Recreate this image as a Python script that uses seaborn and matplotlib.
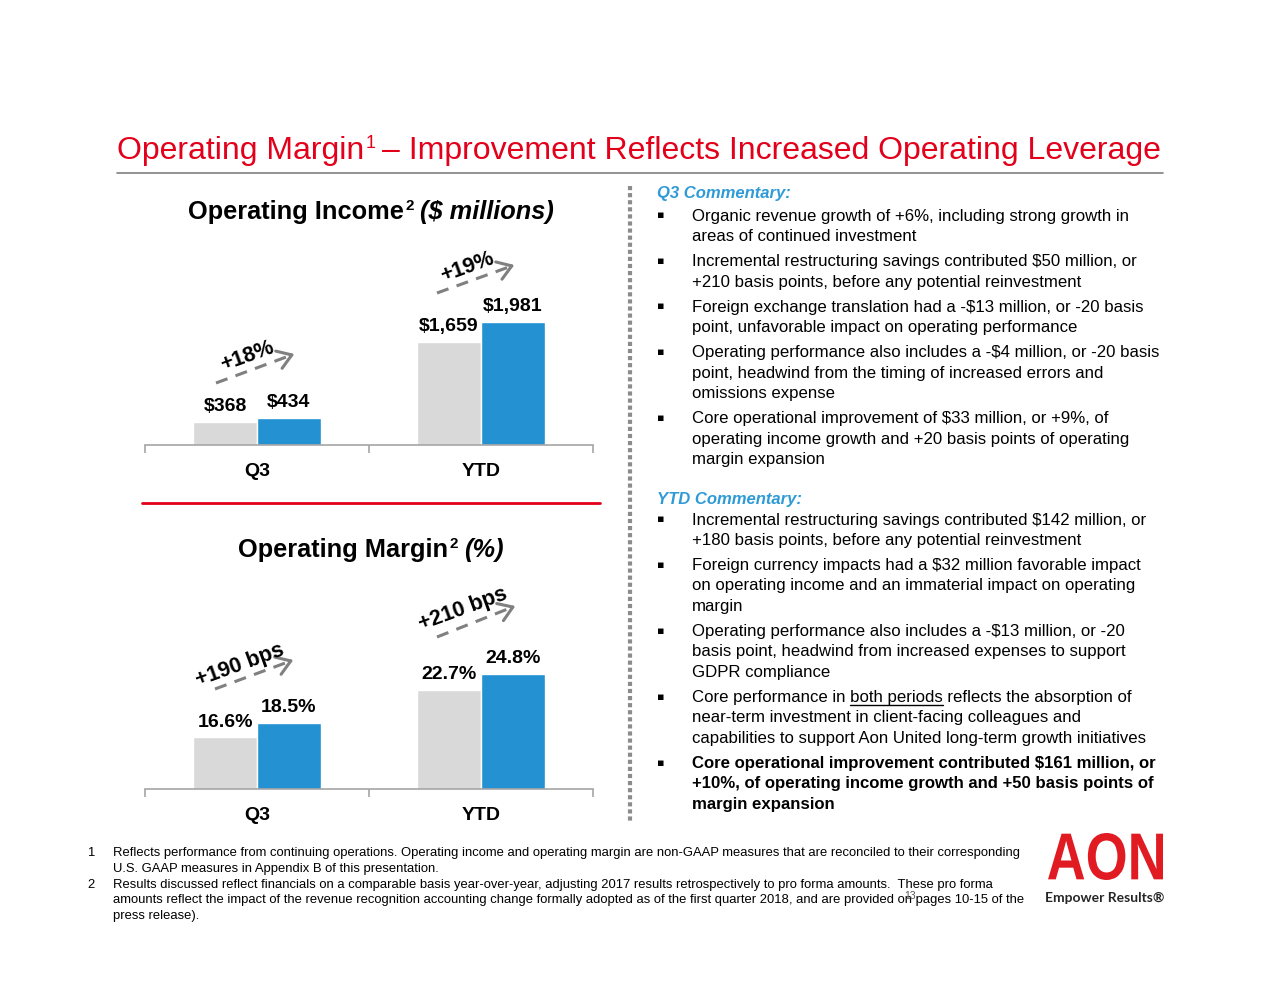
import pandas as pd
import matplotlib.pyplot as plt
import seaborn as sns
from matplotlib.lines import Line2D
from matplotlib.patches import FancyArrowPatch, PathPatch
from matplotlib.textpath import TextPath
from matplotlib.font_manager import FontProperties
from matplotlib.transforms import Affine2D

# Datos
periods = ["Q3", "YTD"]
years = ["2017", "2018"]
income_2017 = [368, 1659]
income_2018 = [434, 1981]
margin_2017 = [16.6, 22.7]
margin_2018 = [18.5, 24.8]
income_growth = ["+18%", "+19%"]
margin_growth = ["+190 bps", "+210 bps"]

q3_comments = [
    ["Organic revenue growth of +6%, including strong growth in",
     "areas of continued investment"],
    ["Incremental restructuring savings contributed $50 million, or",
     "+210 basis points, before any potential reinvestment"],
    ["Foreign exchange translation had a -$13 million, or -20 basis",
     "point, unfavorable impact on operating performance"],
    ["Operating performance also includes a -$4 million, or -20 basis",
     "point, headwind from the timing of increased errors and",
     "omissions expense"],
    ["Core operational improvement of $33 million, or +9%, of",
     "operating income growth and +20 basis points of operating",
     "margin expansion"],
]
ytd_comments = [
    ["Incremental restructuring savings contributed $142 million, or",
     "+180 basis points, before any potential reinvestment"],
    ["Foreign currency impacts had a $32 million favorable impact",
     "on operating income and an immaterial impact on operating",
     "margin"],
    ["Operating performance also includes a -$13 million, or -20",
     "basis point, headwind from increased expenses to support",
     "GDPR compliance"],
    ["Core performance in both periods reflects the absorption of",
     "near-term investment in client-facing colleagues and",
     "capabilities to support Aon United long-term growth initiatives"],
    ["Core operational improvement contributed $161 million, or",
     "+10%, of operating income growth and +50 basis points of",
     "margin expansion"],
]
footnotes = [
    ("1", ["Reflects performance from continuing operations. Operating income and operating margin are non-GAAP measures that are reconciled to their corresponding",
           "U.S. GAAP measures in Appendix B of this presentation."]),
    ("2", ["Results discussed reflect financials on a comparable basis year-over-year, adjusting 2017 results retrospectively to pro forma amounts.  These pro forma",
           "amounts reflect the impact of the revenue recognition accounting change formally adopted as of the first quarter 2018, and are provided on pages 10-15 of the",
           "press release)."]),
]

RED = "#E3001B"
GRAY = "#D9D9D9"
BLUE = "#2391D2"
LIGHTBLUE = "#2E9BD6"
ARROW = "#808080"

sns.set_theme(style="white")
plt.rcParams["font.family"] = ["Liberation Sans", "DejaVu Sans"]
plt.rcParams["text.parse_math"] = False
plt.rcParams["text.color"] = "black"
plt.rcParams["xtick.color"] = "black"
plt.rcParams["xtick.labelcolor"] = "black"

W, H = 1280, 989
fig = plt.figure(figsize=(W / 100, H / 100), dpi=100)
fig.patch.set_facecolor("white")
# coordenadas en pixeles, origen arriba a la izquierda
pix = Affine2D().scale(1 / W, -1 / H).translate(0, 1) + fig.transFigure
renderer = fig.canvas.get_renderer()


def width_of(t):
    return t.get_window_extent(renderer).width


def rich(x, y, parts, center=False):
    # parts: (texto, kwargs, separacion_px, desplazamiento_y)
    objs = []
    cur = x
    for s, kw, gap, dy in parts:
        cur += gap
        t = fig.text(cur, y - dy, s, transform=pix, va="baseline", ha="left", **kw)
        cur += width_of(t)
        objs.append(t)
    if center:
        shift = (cur - x) / 2
        for t in objs:
            px, py = t.get_position()
            t.set_position((px - shift, py))
    return objs


# Título
rich(117, 159, [
    ("Operating Margin", dict(fontsize=23, color=RED), 0, 0),
    ("1", dict(fontsize=13, color=RED), 1, 11),
    ("\u2013 Improvement Reflects Increased Operating Leverage", dict(fontsize=23, color=RED), 7, 0),
])
fig.add_artist(Line2D([117, 1163], [173, 173], transform=pix, color="#7F7F7F", lw=1.2))

# Títulos de gráficos
rich(371, 219, [
    ("Operating Income", dict(fontsize=18.3, fontweight="bold"), 0, 0),
    ("2", dict(fontsize=11, fontweight="bold"), 1, 9),
    ("($ millions)", dict(fontsize=18.3, fontweight="bold", style="italic"), 6, 0),
], center=True)
rich(371, 557, [
    ("Operating Margin", dict(fontsize=18.3, fontweight="bold"), 0, 0),
    ("2", dict(fontsize=11, fontweight="bold"), 1, 9),
    ("(%)", dict(fontsize=18.3, fontweight="bold", style="italic"), 6, 0),
], center=True)
fig.add_artist(Line2D([142, 600], [503, 503], transform=pix, color=RED, lw=2))


def bar_panel(rect, vals_a, vals_b, ylim, fmt):
    ax = fig.add_axes(rect)
    df = pd.DataFrame({
        "period": periods * 2,
        "year": [years[0]] * 2 + [years[1]] * 2,
        "value": vals_a + vals_b,
    })
    sns.barplot(data=df, x="period", y="value", hue="year", palette=[GRAY, BLUE],
                width=0.57, gap=0, saturation=1, legend=False, ax=ax)
    for cont, vals in zip(ax.containers, [vals_a, vals_b]):
        ax.bar_label(cont, labels=[fmt(v) for v in vals], padding=5,
                     fontsize=14, fontweight="bold", color="black")
    ax.set_xlim(-0.5, 1.5)
    ax.set_ylim(*ylim)
    ax.set_yticks([])
    ax.set_xlabel("")
    ax.set_ylabel("")
    ax.set_facecolor("none")
    sns.despine(ax=ax, left=True)
    ax.spines["bottom"].set_color("#A6A6A6")
    ax.spines["bottom"].set_linewidth(1.2)
    ax.set_xticks([0, 1])
    ax.set_xticklabels(periods, fontsize=14, fontweight="bold", color="black")
    ax.set_xticks([-0.5, 0.5, 1.5], minor=True)
    ax.tick_params(axis="x", which="major", length=0, pad=13)
    ax.tick_params(axis="x", which="minor", bottom=True, length=6, width=1.2,
                   color="#A6A6A6", direction="out")
    return ax


bar_panel([145 / W, 1 - 445 / H, 448 / W, 195 / H], income_2017, income_2018,
          (0, 3140), lambda v: f"${v:,.0f}")
bar_panel([145 / W, 1 - 789 / H, 448 / W, 199 / H], margin_2017, margin_2018,
          (10, 35.5), lambda v: f"{v:.1f}%")


def trend_arrow(x0, y0, x1, y1, label, lx, ly):
    fig.add_artist(Line2D([x0, x1 - 4], [y0, y1 + 1.5], transform=pix, color=ARROW,
                          lw=2.2, ls=(0, (4, 2.8)), solid_capstyle="butt"))
    dx, dy = x1 - x0, y1 - y0
    n = (dx ** 2 + dy ** 2) ** 0.5
    fig.add_artist(FancyArrowPatch((x1 - dx / n * 10, y1 - dy / n * 10), (x1, y1),
                                   transform=pix, arrowstyle="->,head_length=0.45,head_width=0.3",
                                   mutation_scale=22, color=ARROW, lw=2.2))
    fig.text(lx, ly, label, transform=pix, rotation=20, rotation_mode="anchor",
             ha="center", va="center", fontsize=15.5, fontweight="bold", color="black")


trend_arrow(216, 383, 297, 353, income_growth[0], 247, 356)
trend_arrow(437, 293, 517, 264, income_growth[1], 467, 267)
trend_arrow(215, 689, 296, 659, margin_growth[0], 240, 665)
trend_arrow(437, 637, 518, 605, margin_growth[1], 463, 609)

# línea vertical punteada
fig.add_artist(Line2D([630, 630], [186, 822], transform=pix, color="#8C8C8C", lw=3,
                      ls=(0, (1, 0.7)), solid_capstyle="butt", dash_capstyle="butt"))


def commentary(title, y_title, items, y0, bold_last=False, underline=None):
    fig.text(657, y_title + 6, title, transform=pix, fontsize=12, fontweight="bold",
             style="italic", color=LIGHTBLUE, va="baseline")
    y = y0
    for i, lines in enumerate(items):
        fig.text(661, y, "\u25aa", transform=pix, fontsize=8, ha="center", va="center",
                 color="black", family=["DejaVu Sans"])
        weight = "bold" if (bold_last and i == len(items) - 1) else "normal"
        for line in lines:
            fig.text(692, y + 5.5, line, transform=pix, fontsize=12.1, fontweight=weight,
                     color="black", va="baseline")
            if underline and underline in line:
                pre = line[:line.index(underline) + len(underline)]
                tmp1 = fig.text(0, 0, pre, fontsize=12.1)
                tmp2 = fig.text(0, 0, underline, fontsize=12.1)
                w1, w2 = width_of(tmp1), width_of(tmp2)
                tmp1.remove()
                tmp2.remove()
                fig.add_artist(Line2D([692 + w1 - w2, 692 + w1], [y + 8, y + 8], transform=pix,
                                      color="black", lw=1))
            y += 20.4
        y += 4.8


commentary("Q3 Commentary:", 192, q3_comments, 215)
commentary("YTD Commentary:", 498, ytd_comments, 519, bold_last=True, underline="both periods")

# notas al pie
fy = 852
for num, lines in footnotes:
    fig.text(87, fy + 4, num, transform=pix, fontsize=9.35, va="baseline")
    for line in lines:
        fig.text(113, fy + 4, line, transform=pix, fontsize=9.35, va="baseline")
        fy += 15.8
fig.text(904, 899, "13", transform=pix, fontsize=7.5, color="#595959", va="baseline")

# logo
tp = TextPath((0, 0), "AON", size=1, prop=FontProperties(family="Liberation Sans", weight="bold"))
bb = tp.get_extents()
logo_tr = Affine2D().translate(-bb.x0, -bb.y0).scale(115 / bb.width, -47 / bb.height).translate(1048, 880) + pix
fig.add_artist(PathPatch(tp, transform=logo_tr, facecolor="#E11B22", edgecolor="none"))
fig.text(1105, 902, "Empower Results\u00ae", transform=pix, fontsize=10, fontweight="bold",
         family=["Lato", "DejaVu Sans"], color="#262626", ha="center", va="baseline")

fig.savefig("out.png", dpi=100, facecolor="white")
